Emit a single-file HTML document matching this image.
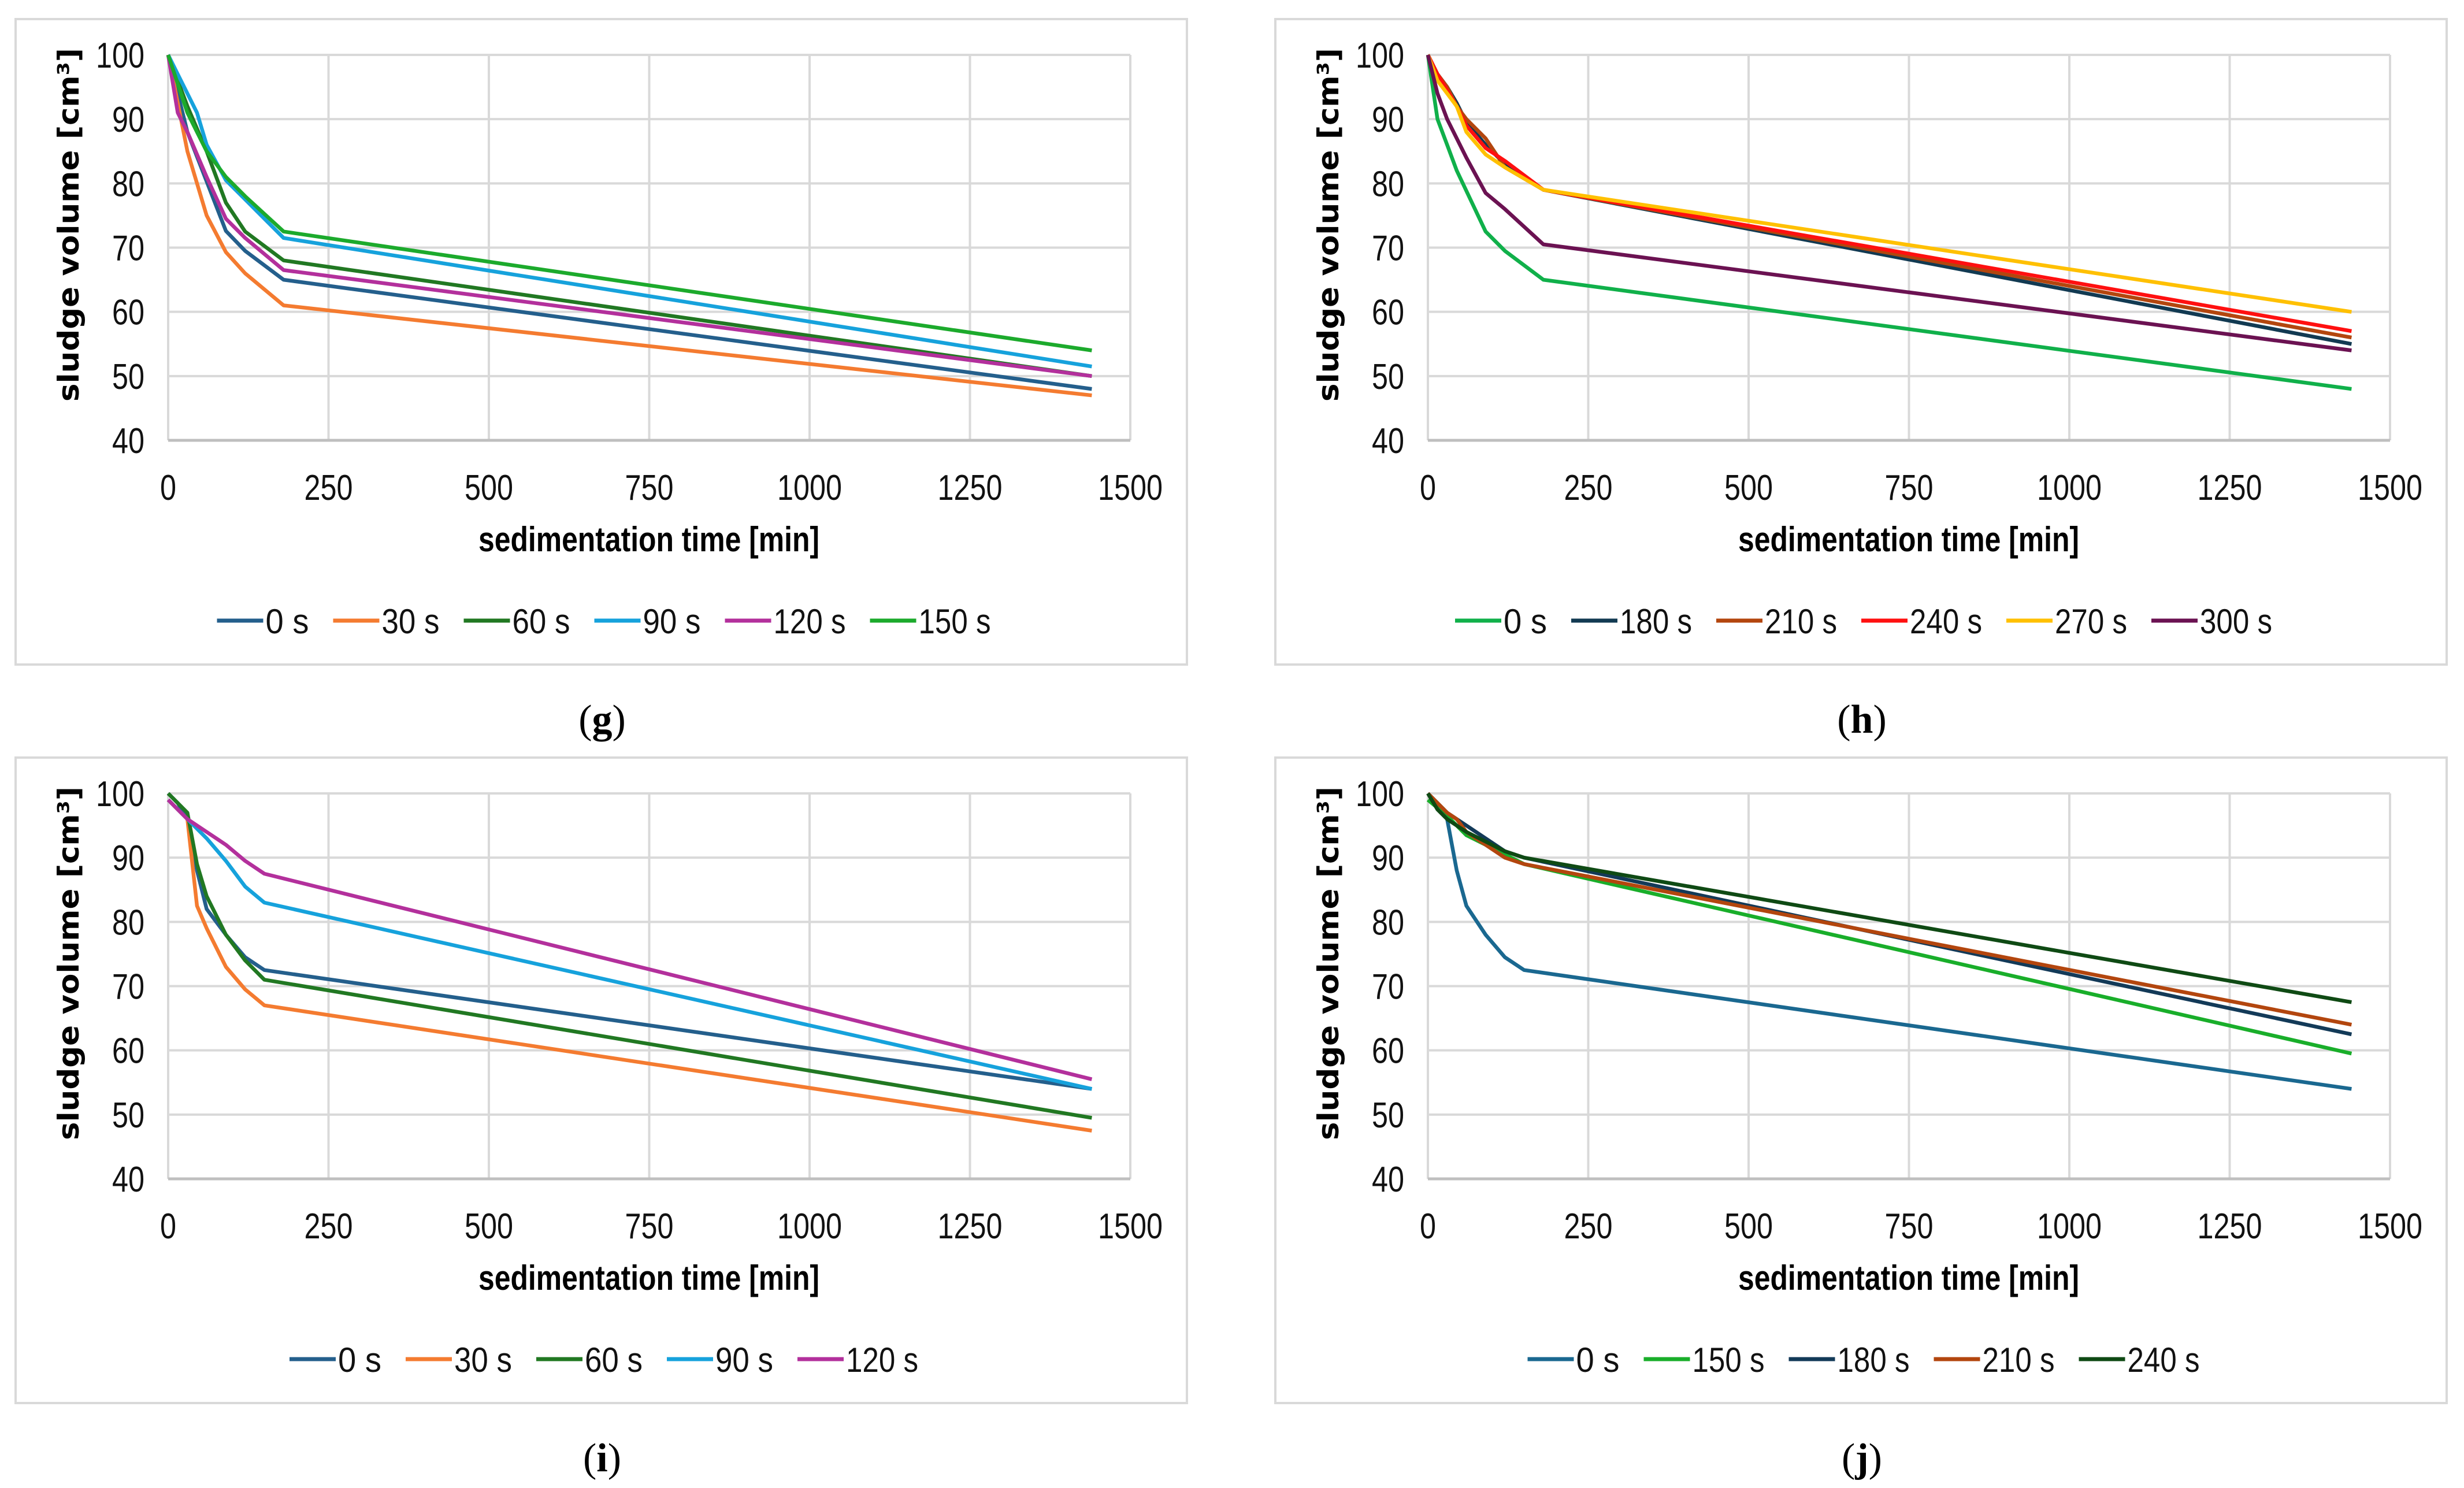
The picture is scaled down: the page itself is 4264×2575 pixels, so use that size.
<!DOCTYPE html>
<html><head><meta charset="utf-8"><style>
html,body{margin:0;padding:0;background:#fff;}
svg{display:block;}
</style></head><body>
<svg id="fig" xmlns="http://www.w3.org/2000/svg" width="4264" height="2575" viewBox="0 0 4264 2575"></svg>
<script>
// ---- data ----
const yTicks = [40, 50, 60, 70, 80, 90, 100];
const xTicks = [0, 250, 500, 750, 1000, 1250, 1500];

const gLabels = ["0 s", "30 s", "60 s", "90 s", "120 s", "150 s"];
const gColors = ["#245f8c", "#f47b30", "#217822", "#16a2dc", "#b3309c", "#1caa2c"];
const gTimes = [
  [0, 30, 90, 120, 180, 1440],
  [0, 30, 60, 90, 120, 180, 1440],
  [0, 30, 60, 90, 120, 180, 1440],
  [0, 15, 45, 60, 90, 120, 180, 1440],
  [0, 15, 30, 60, 90, 120, 180, 1440],
  [0, 30, 45, 60, 90, 120, 180, 1440]
];
const gValues = [
  [100, 88, 72.6, 69.5, 65, 48],
  [100, 85, 75, 69.3, 66, 61, 47],
  [100, 92, 85, 77, 72.5, 68, 50],
  [100, 97, 91, 86, 80.5, 77.5, 71.5, 51.5],
  [100, 91, 88, 81, 74.5, 71.5, 66.5, 50],
  [100, 91, 88, 85, 81, 78, 72.5, 54]
];

const hLabels = ["0 s", "180 s", "210 s", "240 s", "270 s", "300 s"];
const hColors = ["#10b04a", "#123a52", "#b3460e", "#ff1010", "#ffc000", "#6b1252"];
const hTimes = [
  [0, 15, 30, 45, 90, 120, 180, 1440],
  [0, 15, 30, 45, 60, 90, 120, 180, 1440],
  [0, 15, 30, 45, 60, 90, 120, 180, 1440],
  [0, 15, 30, 45, 60, 90, 120, 180, 1440],
  [0, 15, 30, 45, 60, 90, 120, 180, 1440],
  [0, 15, 30, 60, 90, 120, 180, 1440]
];
const hValues = [
  [100, 90, 86, 82, 72.5, 69.5, 65, 48],
  [100, 97, 95, 92.5, 89.5, 86, 83, 79, 55],
  [100, 97, 95, 92, 90, 87, 82.5, 79, 56],
  [100, 97, 94.5, 92, 89, 85.5, 83.5, 79, 57],
  [100, 96, 94, 92, 88, 84.5, 82.5, 79, 60],
  [100, 94, 90, 84, 78.5, 76, 70.5, 54]
];

const iLabels = ["0 s", "30 s", "60 s", "90 s", "120 s"];
const iColors = ["#245f8c", "#f47b30", "#217822", "#16a2dc", "#b3309c"];
const iTimes = [
  [0, 15, 30, 45, 60, 90, 120, 150, 1440],
  [0, 15, 30, 45, 60, 90, 120, 150, 1440],
  [0, 15, 30, 45, 60, 90, 120, 150, 1440],
  [0, 30, 60, 90, 120, 150, 1440],
  [0, 30, 60, 90, 120, 150, 1440]
];
const iValues = [
  [100, 98.5, 96, 88, 82, 78, 74.5, 72.5, 54],
  [99, 97.5, 96, 82.5, 79, 73, 69.5, 67, 47.5],
  [100, 98.5, 97, 89, 84, 78, 74, 71, 49.5],
  [99, 96, 93, 89.5, 85.5, 83, 54],
  [99, 96, 94, 92, 89.5, 87.5, 55.5]
];

const jLabels = ["0 s", "150 s", "180 s", "210 s", "240 s"];
const jColors = ["#1a6890", "#19ae2a", "#133a58", "#b3460e", "#0f4a14"];
const jTimes = [
  [0, 15, 30, 45, 60, 90, 120, 150, 1440],
  [0, 30, 60, 90, 120, 150, 1440],
  [0, 30, 60, 90, 120, 150, 1440],
  [0, 30, 45, 60, 90, 120, 150, 1440],
  [0, 15, 30, 60, 90, 120, 150, 1440]
];
const jValues = [
  [100, 98.5, 96, 88, 82.5, 78, 74.5, 72.5, 54],
  [99, 96.5, 93.5, 92, 90.5, 89, 59.5],
  [100, 97, 95, 93, 91, 90, 62.5],
  [100, 97, 96, 94, 92, 90, 89, 64],
  [100, 97.5, 96, 94, 92.5, 91, 90, 67.5]
];

// ---- drawing ----
const NS = "http://www.w3.org/2000/svg";
const svg = document.getElementById("fig");
function mk(tag, attrs, parent) {
  const e = document.createElementNS(NS, tag);
  for (const k in attrs) e.setAttribute(k, attrs[k]);
  (parent || svg).appendChild(e);
  return e;
}
const NARROW = '"Liberation Sans Narrow", "Liberation Sans", sans-serif';

function panel(id, dx, dy, caption, labels, colors, times, values) {
  const g = mk("g", {transform: `translate(${dx},${dy})`});
  
  
  const L = 291, R = 1956, T = 95, B = 762;
  const xs = v => L + (v - 0) / 1500 * (R - L);
  const ys = v => B - (v - 40) / 60 * (B - T);

  const frame = mk("rect", {x: 27, y: 33, width: 2027, height: 1117, fill: "#fff", stroke: "#d9d9d9", "stroke-width": 4}, g);
  
  

  yTicks.forEach(t => {
    const ln = mk("line", {x1: L, x2: R, y1: ys(t), y2: ys(t), stroke: "#d9d9d9", "stroke-width": 4}, g);
    
    
    const s = String(t);
    const tx = mk("text", {x: 250, y: ys(t) + 22, "text-anchor": "end", "font-family": NARROW, "font-size": 62, fill: "#111", textLength: s.length * 28, lengthAdjust: "spacingAndGlyphs"}, g);
    tx.textContent = s;
    
    
  });
  xTicks.forEach(t => {
    const ln = mk("line", {x1: xs(t), x2: xs(t), y1: T, y2: B, stroke: "#d9d9d9", "stroke-width": 4}, g);
    
    
    const s = String(t);
    const tx = mk("text", {x: xs(t), y: 865, "text-anchor": "middle", "font-family": NARROW, "font-size": 62, fill: "#111", textLength: s.length * 28, lengthAdjust: "spacingAndGlyphs"}, g);
    tx.textContent = s;
    
    
  });
  const ax = mk("line", {x1: L, x2: R, y1: B, y2: B, stroke: "#bfbfbf", "stroke-width": 5}, g);
  
  

  const yt = mk("text", {x: 0, y: 0, transform: `translate(136,389) rotate(-90)`, "text-anchor": "middle", "font-family": '"DejaVu Sans", "Liberation Sans", sans-serif', "font-weight": "bold", "font-size": 50, fill: "#000", textLength: 612, lengthAdjust: "spacingAndGlyphs"}, g);
  yt.textContent = "sludge volume [cm³]";
  
  
  const xt = mk("text", {x: 1123, y: 954, "text-anchor": "middle", "font-family": NARROW, "font-weight": "bold", "font-size": 60, fill: "#000", textLength: 590, lengthAdjust: "spacingAndGlyphs"}, g);
  xt.textContent = "sedimentation time [min]";
  
  

  labels.forEach((lab, s) => {
    const pts = times[s].map((t, k) => xs(t).toFixed(1) + "," + ys(values[s][k]).toFixed(1)).join(" ");
    const pl = mk("polyline", {points: pts, fill: "none", stroke: colors[s], "stroke-width": 6.5, "stroke-linejoin": "round"}, g);
    
    
  });

  // legend
  const cw = 25, sw = 80, gap = 42;
  const widths = labels.map(l => sw + 4 + l.length * cw);
  const total = widths.reduce((a, b) => a + b, 0) + gap * (labels.length - 1);
  let x = 1045 - total / 2;
  labels.forEach((lab, s) => {
    const lg = mk("g", {}, g);
    
    
    mk("line", {x1: x, x2: x + sw, y1: 1074, y2: 1074, stroke: colors[s], "stroke-width": 7}, lg);
    const tx = mk("text", {x: x + sw + 4, y: 1096, "font-family": NARROW, "font-size": 60, fill: "#111", textLength: lab.length * cw, lengthAdjust: "spacingAndGlyphs"}, lg);
    tx.textContent = lab;
    x += widths[s] + gap;
  });

  const cap = mk("text", {x: 1042, y: 1268, "text-anchor": "middle", "font-family": '"Liberation Serif", serif', "font-size": 70, fill: "#000"}, g);
  cap.innerHTML = '(<tspan font-weight="bold">' + caption + '</tspan>)';
  
  
}

panel("g", 0, 0, "g", gLabels, gColors, gTimes, gValues);
panel("h", 2180, 0, "h", hLabels, hColors, hTimes, hValues);
panel("i", 0, 1278, "i", iLabels, iColors, iTimes, iValues);
panel("j", 2180, 1278, "j", jLabels, jColors, jTimes, jValues);
</script>
</body></html>
